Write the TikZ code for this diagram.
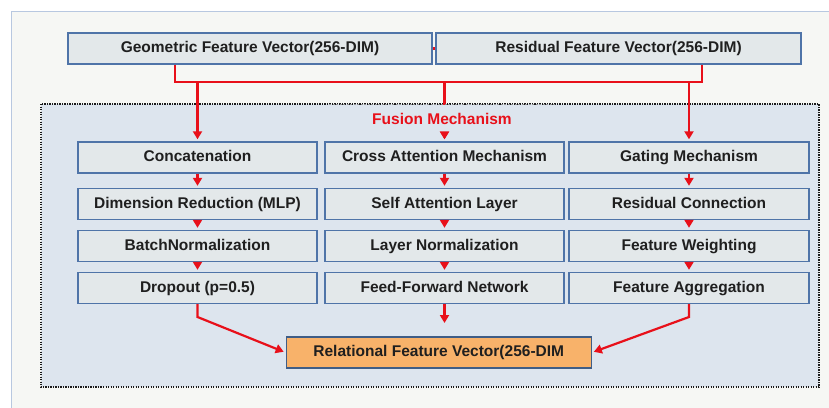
\documentclass[tikz,border=0pt]{standalone}
\usepackage{fontspec}
\setmainfont{Liberation Sans}
\usetikzlibrary{arrows.meta}
\definecolor{outerfill}{HTML}{F6F7F4}
\definecolor{outerline}{HTML}{B8C8E0}
\definecolor{framefill}{HTML}{DDE5EE}
\definecolor{boxfill}{HTML}{E3E8EA}
\definecolor{boxline}{HTML}{4F74A8}
\definecolor{flowred}{HTML}{E8101A}
\definecolor{outfill}{HTML}{F8B26A}
\begin{document}
\begin{tikzpicture}[x=1pt,y=-1pt,
  box/.style={draw=boxline, line width=1.4pt, fill=boxfill, minimum height=31pt,
    inner sep=0pt, text height=11.3pt, text depth=3.2pt,
    font=\fontsize{15.5}{18}\selectfont\bfseries, text=black!88},
  colbox/.style={box, minimum width=239pt},
  topbox/.style={box, minimum width=364pt},
  outbox/.style={box, fill=outfill, draw=boxline!80!black, minimum width=305pt},
  redline/.style={draw=flowred, line width=2.2pt},
  redarrow/.style={redline, -{Triangle[length=8pt,width=9pt]}, shorten >=2pt},
]
\useasboundingbox (0,0) rectangle (829,407);
% background panels
\draw[fill=outerfill, draw=outerline, line width=1pt] (11,11) rectangle (840,420);
\draw[fill=framefill, draw=black!90, line width=1.8pt, dash pattern=on 1.4pt off 1.1pt] (41,104) rectangle (819,387);

% top boxes
\node[topbox] (geo) at (250,48.5) {Geometric Feature Vector(256-DIM)};
\node[box, minimum width=365pt] (res) at (618.5,48.5) {Residual Feature Vector(256-DIM)};

% columns
\node[colbox] (a1) at (197.5,157.5) {Concatenation};
\node[colbox] (a2) at (197.5,204) {Dimension Reduction (MLP)};
\node[colbox] (a3) at (197.5,246) {BatchNormalization};
\node[colbox] (a4) at (197.5,288) {Dropout (p=0.5)};
\node[colbox] (b1) at (444.5,157.5) {Cross Attention Mechanism};
\node[colbox] (b2) at (444.5,204) {Self Attention Layer};
\node[colbox] (b3) at (444.5,246) {Layer Normalization};
\node[colbox] (b4) at (444.5,288) {Feed-Forward Network};
\node[colbox, minimum width=240pt] (c1) at (689,157.5) {Gating Mechanism};
\node[colbox, minimum width=240pt] (c2) at (689,204) {Residual Connection};
\node[colbox, minimum width=240pt] (c3) at (689,246) {Feature Weighting};
\node[colbox, minimum width=240pt] (c4) at (689,288) {Feature Aggregation};

\node[outbox] (out) at (438.75,352.5) {Relational Feature Vector(256-DIM};

% top connectors
\coordinate (j1) at (175,82);
\coordinate (j2) at (702,82);
\draw[redline] (geo.east) -- (res.west);
\draw[redline] (j1 |- geo.south) -- (j1) -- (j2) -- (j2 |- res.south);
\draw[redarrow] (a1 |- j1) -- (a1.north);
\draw[redarrow] (b1 |- j1) -- (b1.north);
\draw[redarrow] (c1 |- j1) -- (c1.north);

% label
\node[fill=framefill, minimum width=225pt, minimum height=27pt, inner sep=0pt,
  text=flowred, font=\fontsize{15.5}{18}\selectfont\bfseries] (lbl) at (442,118.5) {Fusion Mechanism};
\draw[black!45, line width=1pt, dash pattern=on 2pt off 1.5pt] (lbl.north west) -- (lbl.north east);
\draw[redarrow] (lbl.south -| b1) -- (b1.north);

% column arrows
\foreach \c in {a,b,c}{
  \draw[redarrow] (\c1.south) -- (\c2.north);
  \draw[redarrow] (\c2.south) -- (\c3.north);
  \draw[redarrow] (\c3.south) -- (\c4.north);
}

% bottom connectors
\coordinate (k1) at (197.5,317);
\coordinate (k3) at (689,317);
\coordinate (k2) at (444.5,323);
\draw[redarrow] (a4.south) -- (k1) -- (out.west);
\draw[redarrow, shorten >=0pt] (b4.south) -- (k2);
\draw[redarrow] (c4.south) -- (k3) -- (out.east);
\end{tikzpicture}
\end{document}
